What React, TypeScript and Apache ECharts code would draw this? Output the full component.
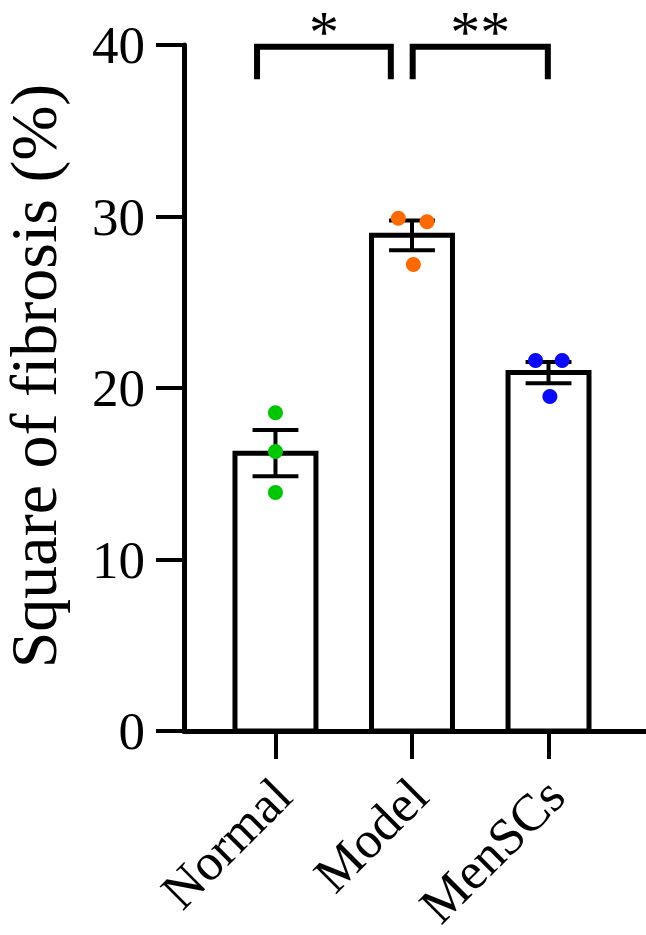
import React, { useEffect, useRef } from "react";
import * as echarts from "echarts";

const categories = ["Normal", "Model", "MenSCs"];
const means = [16.2, 28.9, 20.9];
const sems = [1.35, 0.87, 0.62];
const normalPoints = [18.55, 16.3, 13.9];
const modelPoints = [29.9, 29.7, 27.2];
const mensPoints = [21.6, 21.6, 19.5];
const jitter = [
  [0, 0, 0],
  [-0.1, 0.11, 0.01],
  [-0.095, 0.1, 0.01],
];
const pointColors = ["#00c800", "#ff6a00", "#0a0aff"];
const yTicks = [0, 10, 20, 30, 40];
const bracketStart = [-0.135, 1.005];
const bracketEnd = [0.845, 1.995];
const bracketTop = 39.9;
const bracketDrop = 38.0;
const bracketLabels = ["*", "**"];

const FONT = '"Liberation Serif", "Times New Roman", serif';
const LABEL_SHIFT = 0.05;

export default function App() {
  const ref = useRef<HTMLDivElement>(null);
  useEffect(() => {
    const chart = echarts.init(ref.current!, null, { renderer: "svg" });
    const groups = [normalPoints, modelPoints, mensPoints];
    const scatterSeries = groups.map((pts, gi) => ({
      type: "scatter",
      data: pts.map((v, i) => [gi + jitter[gi][i], v]),
      symbol: "circle",
      symbolSize: 15,
      itemStyle: { color: pointColors[gi], opacity: 1 },
      z: 5,
    }));
    const option: any = {
      animation: false,
      grid: {
        left: 184,
        right: 0,
        top: 45,
        bottom: 204,
        containLabel: false,
        outerBoundsMode: "none",
      },
      xAxis: {
        type: "value",
        min: -0.67,
        max: 2.714,
        axisLine: { show: true, onZero: false, lineStyle: { color: "#000", width: 5 } },
        axisTick: {
          show: true,
          length: 28,
          customValues: [0, 1, 2],
          lineStyle: { color: "#000", width: 4 },
        },
        axisLabel: {
          show: true,
          customValues: [LABEL_SHIFT, 1 + LABEL_SHIFT, 2 + LABEL_SHIFT],
          formatter: (v: number) => categories[Math.round(v - LABEL_SHIFT)] ?? "",
          rotate: 45,
          margin: 56,
          color: "#000",
          fontFamily: FONT,
          fontSize: 52,
        },
        splitLine: { show: false },
      },
      yAxis: {
        type: "value",
        min: yTicks[0],
        max: yTicks[yTicks.length - 1],
        interval: 10,
        axisLine: { show: true, onZero: false, lineStyle: { color: "#000", width: 5 } },
        axisTick: { show: true, length: 28, lineStyle: { color: "#000", width: 4 } },
        axisLabel: {
          margin: 39,
          color: "#000",
          fontFamily: FONT,
          fontSize: 53,
        },
        splitLine: { show: false },
      },
      graphic: [
        {
          type: "text",
          x: 33,
          y: 376,
          rotation: Math.PI / 2,
          style: {
            text: "Square of fibrosis (%)",
            font: `66px ${FONT}`,
            fill: "#000",
            align: "center",
            verticalAlign: "middle",
          },
        },
      ],
      series: [
        {
          type: "custom",
          data: means.map((m, i) => [i, m]),
          z: 2,
          renderItem: (params: any, api: any) => {
            const x = api.value(0);
            const y = api.value(1);
            const base = api.coord([x, 0]);
            const top = api.coord([x, y]);
            const w = api.size([0.593, 0])[0];
            return {
              type: "rect",
              shape: { x: base[0] - w / 2, y: top[1], width: w, height: base[1] - top[1] },
              style: { fill: "#fff", stroke: "#000", lineWidth: 5 },
            };
          },
        },
        {
          type: "custom",
          data: means.map((m, i) => [i, m, sems[i]]),
          z: 3,
          renderItem: (params: any, api: any) => {
            const x = api.value(0);
            const m = api.value(1);
            const s = api.value(2);
            const hi = api.coord([x, m + s]);
            const lo = api.coord([x, m - s]);
            const cw = api.size([0.168, 0])[0];
            const st = { stroke: "#000", lineWidth: 4 };
            return {
              type: "group",
              children: [
                { type: "line", shape: { x1: hi[0], y1: hi[1], x2: lo[0], y2: lo[1] }, style: st },
                { type: "line", shape: { x1: hi[0] - cw, y1: hi[1], x2: hi[0] + cw, y2: hi[1] }, style: st },
                { type: "line", shape: { x1: lo[0] - cw, y1: lo[1], x2: lo[0] + cw, y2: lo[1] }, style: st },
              ],
            };
          },
        },
        ...scatterSeries,
        {
          type: "custom",
          clip: false,
          data: bracketStart.map((s, i) => [s, bracketEnd[i], bracketTop, bracketDrop, i]),
          z: 4,
          renderItem: (params: any, api: any) => {
            const x1 = api.value(0);
            const x2 = api.value(1);
            const t = api.value(2);
            const d = api.value(3);
            const idx = api.value(4);
            const p1 = api.coord([x1, d]);
            const p2 = api.coord([x1, t]);
            const p3 = api.coord([x2, t]);
            const p4 = api.coord([x2, d]);
            return {
              type: "group",
              children: [
                {
                  type: "polyline",
                  shape: { points: [p1, p2, p3, p4] },
                  style: { stroke: "#000", lineWidth: 6, fill: "none", lineJoin: "miter" },
                },
                {
                  type: "text",
                  x: (p2[0] + p3[0]) / 2,
                  y: 2,
                  style: {
                    text: bracketLabels[idx],
                    font: `60px ${FONT}`,
                    fill: "#000",
                    align: "center",
                    verticalAlign: "top",
                  },
                },
              ],
            };
          },
        },
      ],
    };
    chart.setOption(option);
    return () => chart.dispose();
  }, []);
  return (
    <div
      ref={ref}
      style={{ position: "fixed", left: 0, top: 0, width: 646, height: 935, background: "#fff" }}
    />
  );
}
